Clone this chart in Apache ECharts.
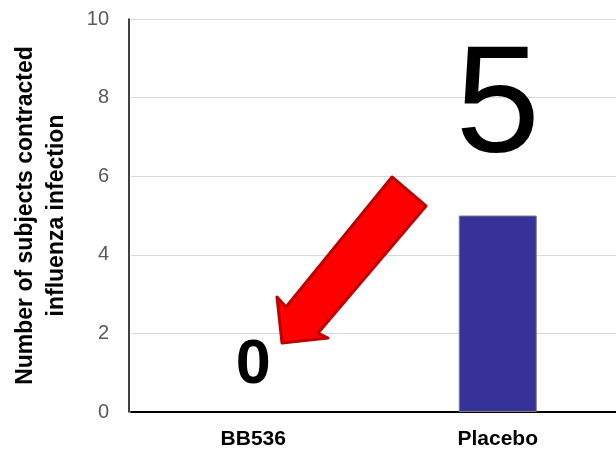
<!DOCTYPE html>
<html>
<head>
<meta charset="utf-8">
<script src="https://cdn.jsdelivr.net/npm/echarts@6/dist/echarts.min.js"></script>
<style>
  html, body { margin: 0; padding: 0; background: #fff; }
  #chart { width: 616px; height: 456px; }
</style>
</head>
<body>
<div id="chart"></div>
<script>
// Influenza cases per group
const categories = ['BB536', 'Placebo'];
const infectedCounts = [0, 5];
const yTicks = [0, 2, 4, 6, 8, 10];

const FONT = '"Liberation Sans", Arial, sans-serif';

const chart = echarts.init(document.getElementById('chart'), null, { renderer: 'canvas' });

// Per-bar value label styles: small bold "0" and a very large "5"
const labelStyles = [
  { fontSize: 63, fontWeight: 'bold', distance: 15 },
  { fontSize: 152, fontWeight: 'normal', distance: 29 }
];

const option = {
  animation: false,
  backgroundColor: '#ffffff',
  grid: {
    left: 131, right: -4, top: 19, bottom: 44,
    containLabel: false, outerBoundsMode: 'none'
  },
  xAxis: {
    type: 'category',
    data: categories,
    axisLine: { show: true, lineStyle: { color: '#000', width: 2 } },
    axisTick: { show: false },
    axisLabel: {
      color: '#000', fontFamily: FONT, fontSize: 21, fontWeight: 'bold', margin: 17
    }
  },
  yAxis: {
    type: 'value',
    offset: 2,
    min: yTicks[0],
    max: yTicks[yTicks.length - 1],
    interval: 2,
    name: 'Number of subjects contracted\ninfluenza infection',
    nameLocation: 'middle',
    nameGap: 57,
    nameTextStyle: {
      color: '#000', fontFamily: FONT, fontSize: 23, fontWeight: 'bold', lineHeight: 31
    },
    axisLine: { show: true, lineStyle: { color: '#000', width: 1.5 } },
    axisTick: { show: false },
    axisLabel: { color: '#595959', fontFamily: FONT, fontSize: 20, margin: 20 },
    splitLine: { show: true, lineStyle: { color: '#d9d9d9', width: 1 } }
  },
  series: [{
    type: 'bar',
    barWidth: 78,
    itemStyle: { color: '#373299', borderColor: '#7f7f7f', borderWidth: 1 },
    data: infectedCounts.map((v, i) => ({
      value: v,
      itemStyle: v === 0 ? { borderWidth: 0 } : undefined,
      label: {
        show: true,
        position: 'top',
        distance: labelStyles[i].distance,
        formatter: '{c}',
        color: '#000',
        fontFamily: FONT,
        fontSize: labelStyles[i].fontSize,
        fontWeight: labelStyles[i].fontWeight
      }
    }))
  }],
  // Red callout arrow pointing at the BB536 result
  graphic: [{
    type: 'polygon',
    z: 100,
    shape: {
      points: [
        [392, 177], [426, 206], [318, 333], [328, 338],
        [282, 343], [277, 297], [286, 307]
      ]
    },
    style: { fill: '#ff0000', stroke: '#c00000', lineWidth: 3, lineJoin: 'round' }
  }]
};

chart.setOption(option);
</script>
</body>
</html>
